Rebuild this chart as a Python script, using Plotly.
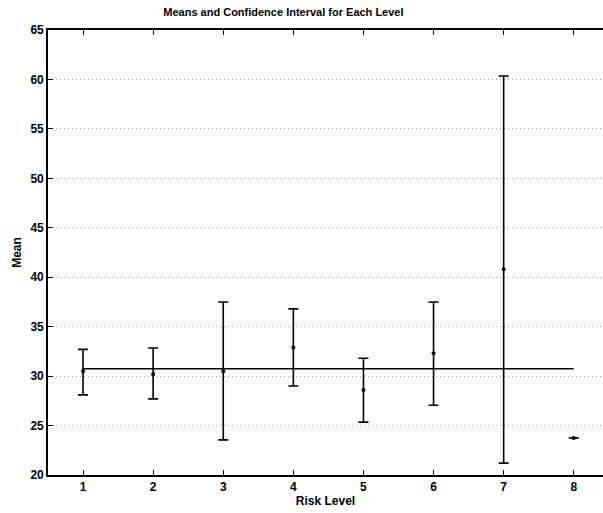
import plotly.graph_objects as go

levels = [1, 2, 3, 4, 5, 6, 7, 8]
means = [30.5, 30.2, 30.5, 32.9, 28.6, 32.3, 40.8, 23.75]
ci_high = [32.7, 32.85, 37.5, 36.8, 31.8, 37.5, 60.35, 23.75]
ci_low = [28.1, 27.7, 23.55, 29.0, 25.35, 27.05, 21.2, 23.75]
overall_mean = 30.75

x_ticks = [1, 2, 3, 4, 5, 6, 7, 8]
y_ticks = [20, 25, 30, 35, 40, 45, 50, 55, 60, 65]

err_plus = [h - m for h, m in zip(ci_high, means)]
err_minus = [m - l for m, l in zip(means, ci_low)]

fig = go.Figure()

fig.add_trace(go.Scatter(
    x=[levels[0], levels[-1]], y=[overall_mean, overall_mean],
    mode="lines", line=dict(color="black", width=1.6),
    showlegend=False, hoverinfo="skip"))

fig.add_trace(go.Scatter(
    x=levels, y=means, mode="markers",
    marker=dict(color="black", size=4),
    error_y=dict(type="data", symmetric=False, array=err_plus,
                 arrayminus=err_minus, color="black", thickness=1.6, width=5),
    showlegend=False))

font = "Liberation Sans, Arial, sans-serif"

fig.update_layout(
    width=603, height=513,
    margin=dict(l=48, r=0, t=30, b=38),
    paper_bgcolor="white", plot_bgcolor="white",
    font=dict(family=font, color="black"),
    title=dict(text="<b>Means and Confidence Interval for Each Level</b>",
               x=0.47, xanchor="center", y=0.977, yanchor="middle",
               font=dict(size=11, family=font, color="black")),
    xaxis=dict(range=[0.5, 8.417], tickvals=x_ticks,
               ticktext=["<b>%d</b>" % v for v in x_ticks],
               ticks="inside", ticklen=5, tickcolor="black",
               showline=True, linecolor="black", linewidth=1.6,
               mirror="ticks", showgrid=False, zeroline=False,
               tickfont=dict(size=12),
               title=dict(text="<b>Risk Level</b>", font=dict(size=12), standoff=2)),
    yaxis=dict(range=[20, 65], tickvals=y_ticks,
               ticktext=["<b>%d</b>" % v for v in y_ticks],
               ticks="inside", ticklen=5, tickcolor="black",
               showline=True, linecolor="black", linewidth=1.6,
               showgrid=True, gridcolor="#999", griddash="1px,3px", gridwidth=1,
               zeroline=False, tickfont=dict(size=12),
               title=dict(text="<b>Mean</b>", font=dict(size=12), standoff=6)),
)

fig.write_html("out.html")
